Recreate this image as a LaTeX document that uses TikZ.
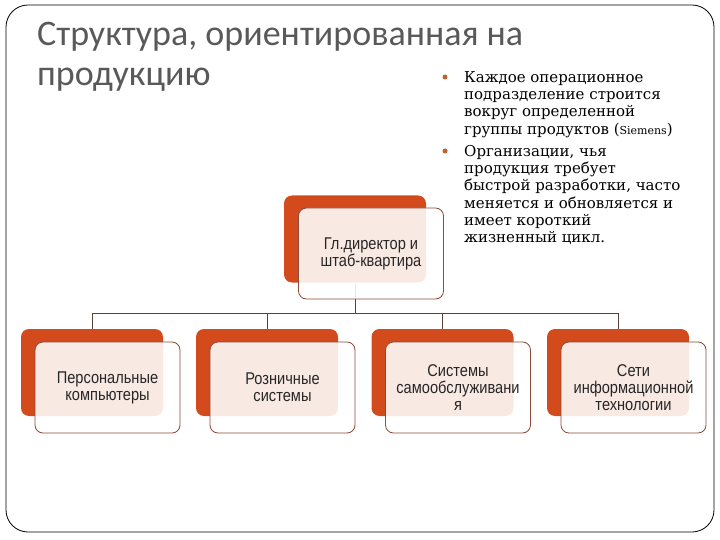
\documentclass[tikz,border=0pt]{standalone}
\usepackage{fontspec}
\setmainfont{DejaVu Serif}
\newfontfamily\titlefont{Carlito}
\newfontfamily\boxfont[FakeStretch=0.86]{Liberation Sans}
\usetikzlibrary{positioning}

\definecolor{unitorange}{HTML}{D34B1C}
\definecolor{unitedge}{HTML}{8C4A3A}
\definecolor{titlegray}{HTML}{595959}
\definecolor{linkbrown}{HTML}{5A4038}
\definecolor{dotbrown}{HTML}{C0622A}

\begin{document}
\begin{tikzpicture}[x=1pt,y=-1pt,
  back/.style={fill=unitorange,rounded corners=8pt,minimum width=142pt,minimum height=87pt,inner sep=0pt},
  card/.style={draw=unitedge,line width=0.8pt,fill=white,fill opacity=0.88,text opacity=1,rounded corners=8pt,
    minimum width=145pt,minimum height=91pt,inner sep=0pt,align=center,
    font=\boxfont\fontsize{17}{17}\selectfont,text=black!85},
  link/.style={draw=linkbrown,line width=0.7pt},
  dot/.style={circle,fill=dotbrown,inner sep=0pt,minimum size=5pt},
  note/.style={anchor=north west,align=left,inner sep=0pt,font=\fontsize{15}{17.3}\selectfont}]
  \useasboundingbox (0,0) rectangle (720,540);
  \draw[line width=0.8pt,rounded corners=22pt] (6,5) rectangle (714,532);
  % title
  \node[anchor=base west,align=left,inner sep=0pt,text=titlegray,
    font=\titlefont\fontsize{36}{40}\selectfont] (title) at (37,86) {Структура, ориентированная на\\продукцию};
  % bullets
  \node[dot] (dot1) at (445,77) {};
  \node[note] (note1) at (464,71) {Каждое операционное\\подразделение строится\\вокруг определенной\\группы продуктов ({\fontsize{11}{11}\selectfont Siemens})};
  \node[dot] (dot2) at (445,151) {};
  \node[note] (note2) at (464,145) {Организации, чья\\продукция требует\\быстрой разработки, часто\\меняется и обновляется и\\имеет короткий\\жизненный цикл.};
  % orange backs
  \node[back] (top) at (355,239) {};
  \node[back] (pc) at (92,372.5) {};
  \node[back] (ret) at (267,372.5) {};
  \node[back] (self) at (442.5,372.5) {};
  \node[back] (net) at (618,372.5) {};
  % links
  \coordinate (fork) at (355,313);
  \draw[link] (top.south) -- (fork);
  \foreach \u in {pc,ret,self,net}
    \draw[link] (fork) -| (\u.north);
  % cards
  \node[card] (topcard) at ([shift={(16,14.5)}]top) {Гл.директор и\\штаб-квартира};
  \node[card] (pccard) at ([shift={(15.5,15)}]pc) {Персональные\\компьютеры};
  \node[card] (retcard) at ([shift={(15.5,15)}]ret) {Розничные\\системы};
  \node[card] (selfcard) at ([shift={(15.5,15)}]self) {Системы\\самообслуживани\\я};
  \node[card] (netcard) at ([shift={(15.5,15)}]net) {Сети\\информационной\\технологии};
\end{tikzpicture}
\end{document}
